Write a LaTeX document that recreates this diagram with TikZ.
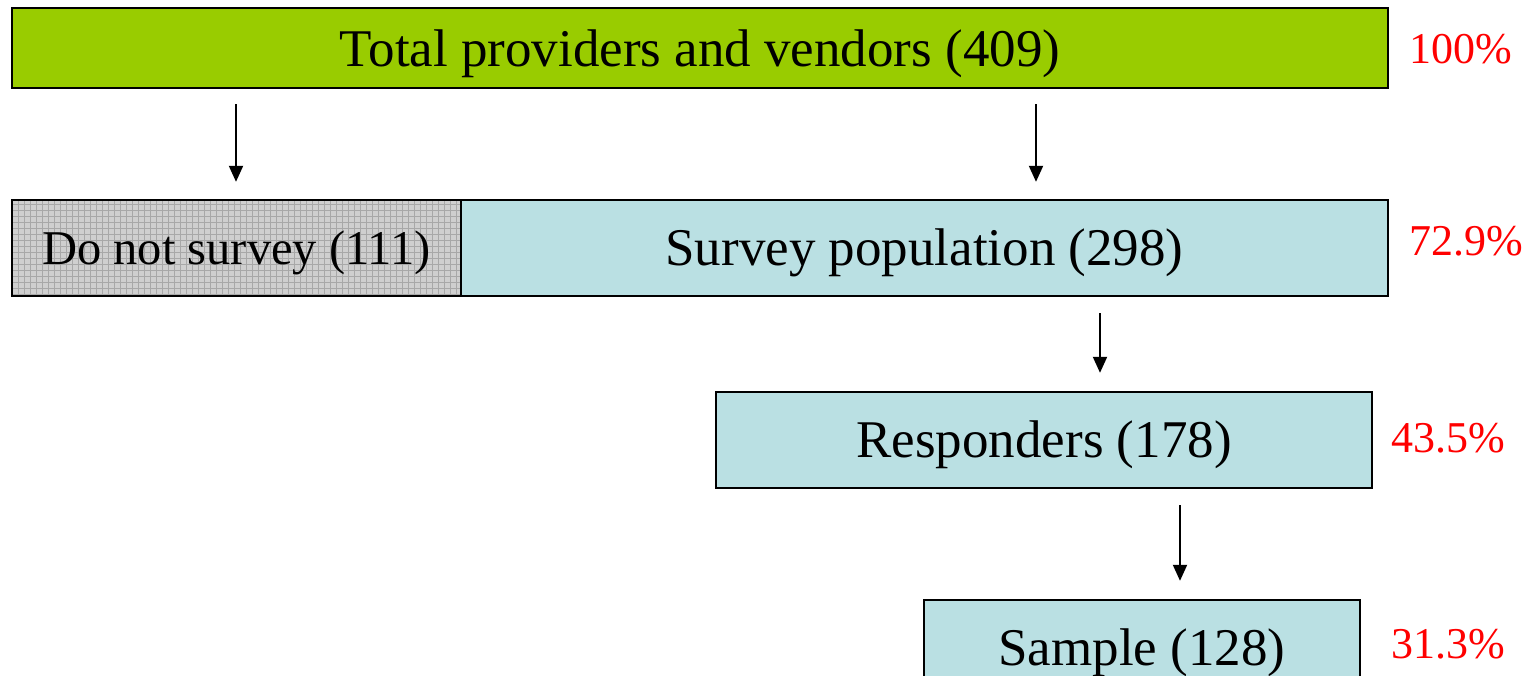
\documentclass[tikz,border=0pt]{standalone}
\usepackage{fontspec}
\setmainfont{Liberation Serif}
\usetikzlibrary{arrows.meta}
\definecolor{topgreen}{HTML}{99CC00}
\definecolor{boxcyan}{HTML}{BAE0E3}
\definecolor{dnsgray}{HTML}{CFCFCF}
\definecolor{dnsgrid}{HTML}{A8A8A8}
\tikzset{
  box/.style={draw=black, line width=2.4pt, rectangle, inner sep=0pt, text height=41pt, text depth=7pt, font=\fontsize{53}{60}\selectfont},
  pct/.style={text=red, anchor=base west, inner sep=0pt, font=\fontsize{44}{50}\selectfont},
  arr/.style={line width=2pt, -{Triangle[length=16pt,width=14pt]}},
}
\begin{document}
\begin{tikzpicture}[x=1pt, y=-1pt]
\useasboundingbox (0,0) rectangle (1537,675);
\clip (0,0) rectangle (1537,675);
\node[box, fill=topgreen, minimum width=1376pt, minimum height=80pt, text height=44pt, text depth=8pt] (total) at (700,48) {Total providers and vendors (409)};
\node[box, fill=dnsgray, minimum width=449pt, minimum height=96pt,
  path picture={\draw[step=6pt, dnsgrid, line width=0.6pt] (path picture bounding box.south west) grid (path picture bounding box.north east);},
  font=\fontsize{48.5}{56}\selectfont, text height=39pt, text depth=7pt] (dns) at (236.5,248) {Do not survey (111)};
\node[box, fill=boxcyan, minimum width=927pt, minimum height=96pt] (survey) at (924.5,248) {Survey population (298)};
\node[box, fill=boxcyan, minimum width=656pt, minimum height=96pt] (resp) at (1044,440) {Responders (178)};
\node[box, fill=boxcyan, minimum width=436pt, minimum height=96pt] (sample) at (1142,648) {Sample (128)};
\node[pct] (p1) at (1409,63) {100\%};
\node[pct] (p2) at (1409,255) {72.9\%};
\node[pct] (p3) at (1391,452) {43.5\%};
\node[pct] (p4) at (1391,658) {31.3\%};
\coordinate (a1) at (236,0);
\coordinate (a2) at (1036,0);
\coordinate (a3) at (1100,0);
\coordinate (a4) at (1180,0);
\draw[arr, shorten <=15pt, shorten >=17pt] (total.south -| a1) -- (dns.north -| a1);
\draw[arr, shorten <=15pt, shorten >=17pt] (total.south -| a2) -- (survey.north -| a2);
\draw[arr, shorten <=16pt, shorten >=18pt] (survey.south -| a3) -- (resp.north -| a3);
\draw[arr, shorten <=16pt, shorten >=18pt] (resp.south -| a4) -- (sample.north -| a4);
\end{tikzpicture}
\end{document}
